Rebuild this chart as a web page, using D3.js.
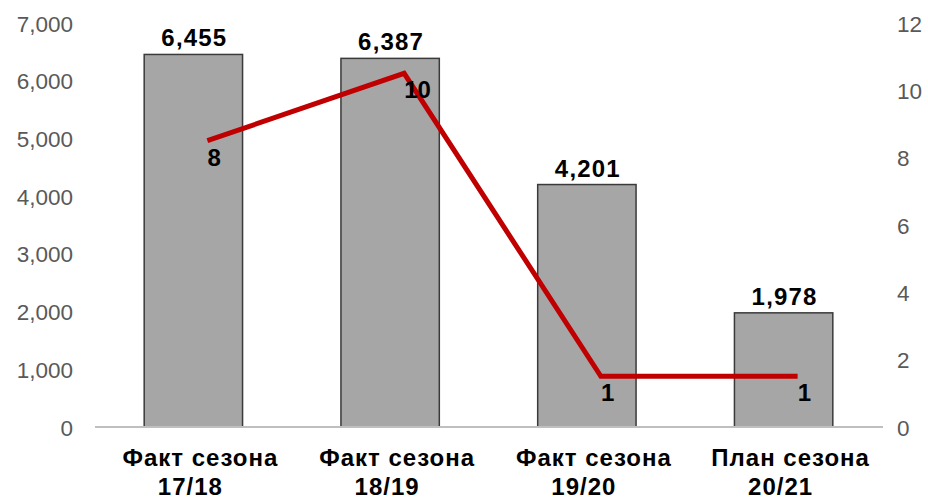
<!DOCTYPE html>
<html><head><meta charset="utf-8">
<script src="https://cdn.jsdelivr.net/npm/d3@7"></script>
<style>
html,body{margin:0;padding:0;background:#fff;}
svg{display:block;font-family:"Liberation Sans",Arial,sans-serif;}
</style></head><body>
<svg id="chart" width="928" height="499"></svg>
<script>
const categories = [["Факт сезона","17/18"],["Факт сезона","18/19"],["Факт сезона","19/20"],["План сезона","20/21"]];
const barValues = [6455, 6387, 4201, 1978];
const lineValues = [8, 10, 1, 1];
const leftTicks = [0,1000,2000,3000,4000,5000,6000,7000];
const rightTicks = [0,2,4,6,8,10,12];

const svg = d3.select("#chart");
const W = 928, H = 499;
const m = {left:95, right:46, top:23, bottom:72};
const x = d3.scaleBand().domain(d3.range(categories.length)).range([m.left, W-m.right]).paddingInner(0.5).paddingOuter(0.25);
const yL = d3.scaleLinear().domain([0,7000]).range([H-m.bottom, m.top]);
const yR = d3.scaleLinear().domain([0,12]).range([H-m.bottom, m.top]);
const fmt = d3.format(",");

// left axis
const axL = svg.append("g").attr("transform",`translate(73,0)`)
  .call(d3.axisLeft(yL).tickValues(leftTicks).tickFormat(fmt).tickSize(0).tickPadding(0));
axL.select(".domain").remove();
axL.selectAll("text").attr("font-size",22.5).attr("fill","#595959").attr("font-family","Liberation Sans, Arial, sans-serif").attr("dy","0.36em");

const axR = svg.append("g").attr("transform",`translate(897,0)`)
  .call(d3.axisRight(yR).tickValues(rightTicks).tickSize(0).tickPadding(0));
axR.select(".domain").remove();
axR.selectAll("text").attr("font-size",22.5).attr("fill","#595959").attr("font-family","Liberation Sans, Arial, sans-serif").attr("dy","0.36em");

// bars
svg.append("g").selectAll("rect").data(barValues).join("rect")
  .attr("x",(d,i)=>x(i)).attr("width",x.bandwidth())
  .attr("y",d=>yL(d)).attr("height",d=>yL(0)-yL(d))
  .attr("fill","#a6a6a6").attr("stroke","#3a3a3a").attr("stroke-width",1.5);

// baseline
svg.append("line").attr("x1",m.left).attr("x2",W-m.right+1).attr("y1",yL(0)).attr("y2",yL(0))
  .attr("stroke","#bfbfbf").attr("stroke-width",2);

// bar labels
svg.append("g").selectAll("text").data(barValues).join("text")
  .attr("x",(d,i)=>x(i)+x.bandwidth()/2+1).attr("y",d=>yL(d)-8)
  .attr("text-anchor","middle").attr("font-size",24).attr("font-weight","bold").attr("fill","#000")
  .attr("letter-spacing",1.2)
  .text(d=>fmt(d));

// line (offset as in original rendering)
const dx = 14, dy = -17;
const line = d3.line().x((d,i)=>x(i)+x.bandwidth()/2+dx).y(d=>yR(d)+dy);
svg.append("path").datum(lineValues).attr("d",line)
  .attr("fill","none").attr("stroke","#c00000").attr("stroke-width",5).attr("stroke-linejoin","miter");

svg.append("g").selectAll("text").data(lineValues).join("text")
  .attr("x",(d,i)=>x(i)+x.bandwidth()/2+dx).attr("y",d=>yR(d)+8)
  .attr("font-size",24).attr("font-weight","bold").attr("fill","#000")
  .text(d=>d);

// category labels
const cat = svg.append("g").selectAll("text").data(categories).join("text")
  .attr("x",(d,i)=>x(i)+x.bandwidth()/2).attr("y",466)
  .attr("text-anchor","middle").attr("font-size",24).attr("font-weight","bold").attr("fill","#000")
  .attr("letter-spacing",1);
cat.append("tspan").attr("x",(d,i)=>x(i)+x.bandwidth()/2+7).attr("dy",0).text(d=>d[0]);
cat.append("tspan").attr("x",(d,i)=>x(i)+x.bandwidth()/2-3).attr("dy",29).text(d=>d[1]);
</script>
</body></html>
